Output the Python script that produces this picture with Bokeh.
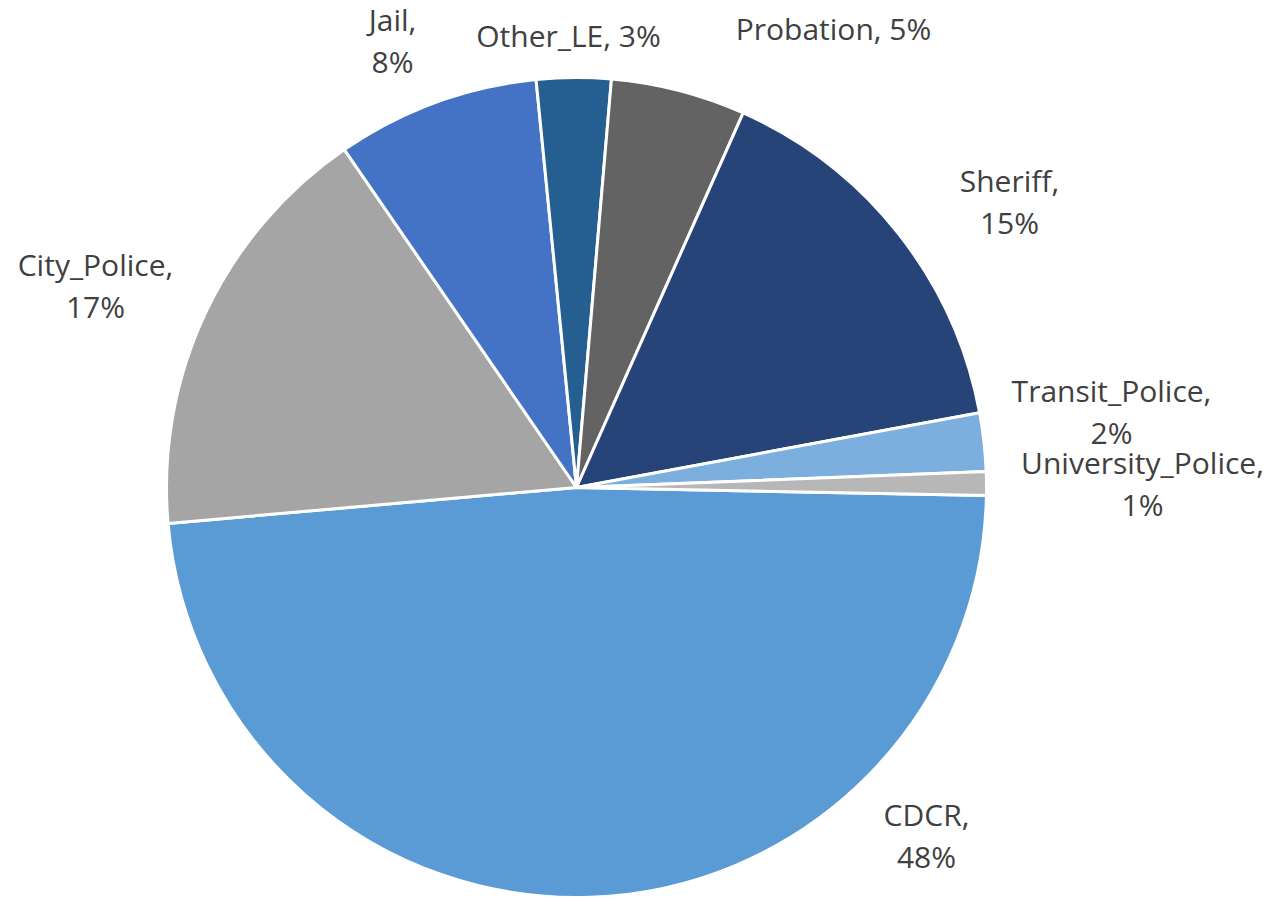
import numpy as np
from bokeh.plotting import figure
from bokeh.models import Range1d, ColumnDataSource
from bokeh.embed import file_html
from bokeh.resources import INLINE
from bokeh.core.properties import value

# ---- data ----
categories = ["CDCR", "City_Police", "Jail", "Other_LE", "Probation",
              "Sheriff", "Transit_Police", "University_Police"]
shares = [48.25, 16.8, 8.0, 2.93, 5.3, 15.4, 2.3, 0.93]
colors = ["#5B9BD5", "#A5A5A5", "#4472C4", "#255E91", "#636363",
          "#264478", "#7CAFDD", "#B7B7B7"]

# ---- layout ----
W, H = 1268, 898
cx, cy, R = 576, 411, 410
first_angle_deg = -1.12
two_line = [True, True, True, False, False, True, True, True]
# label anchor: centre x, baseline of first line (figure pixels)
label_x = [926, 95, 392, 568, 833, 1009, 1111, 1142]
label_y = [84, 634, 879, 863, 870, 718, 508, 436]
line_gap = 42
font = "Open Sans"
font_size = "30px"
text_color = "#404040"

vals = np.array(shares, dtype=float)
frac = vals / vals.sum()
pct = [f"{int(round(f * 100))}%" for f in frac]
cum = np.cumsum(frac) * 2 * np.pi
start0 = np.deg2rad(first_angle_deg)
starts = start0 - np.concatenate([[0.0], cum[:-1]])
ends = start0 - cum

src = ColumnDataSource(dict(cat=categories, start=starts, end=ends, color=colors))

p = figure(width=W, height=H, x_range=Range1d(0, W), y_range=Range1d(0, H),
           output_backend="svg", toolbar_location=None, min_border=0,
           x_axis_type=None, y_axis_type=None)
p.grid.visible = False
p.outline_line_color = None
p.background_fill_color = "white"
p.border_fill_color = "white"

p.wedge(x=cx, y=cy, radius=R, start_angle="start", end_angle="end",
        direction="clock", fill_color="color", line_color="white",
        line_width=3, source=src)

l1_text, l1_x, l1_y, l2_text, l2_x, l2_y = [], [], [], [], [], []
for c, pc, tl, x, y in zip(categories, pct, two_line, label_x, label_y):
    if tl:
        l1_text.append(c + ",")
        l2_text.append(pc)
        l2_x.append(x)
        l2_y.append(y - line_gap)
    else:
        l1_text.append(f"{c}, {pc}")
    l1_x.append(x)
    l1_y.append(y)

for xs, ys, ts in [(l1_x, l1_y, l1_text), (l2_x, l2_y, l2_text)]:
    p.text(x=xs, y=ys, text=ts, text_font=value(font), text_font_size=font_size,
           text_color=text_color, text_align="center", text_baseline="alphabetic")

open("out.html", "w").write(file_html(p, INLINE))
